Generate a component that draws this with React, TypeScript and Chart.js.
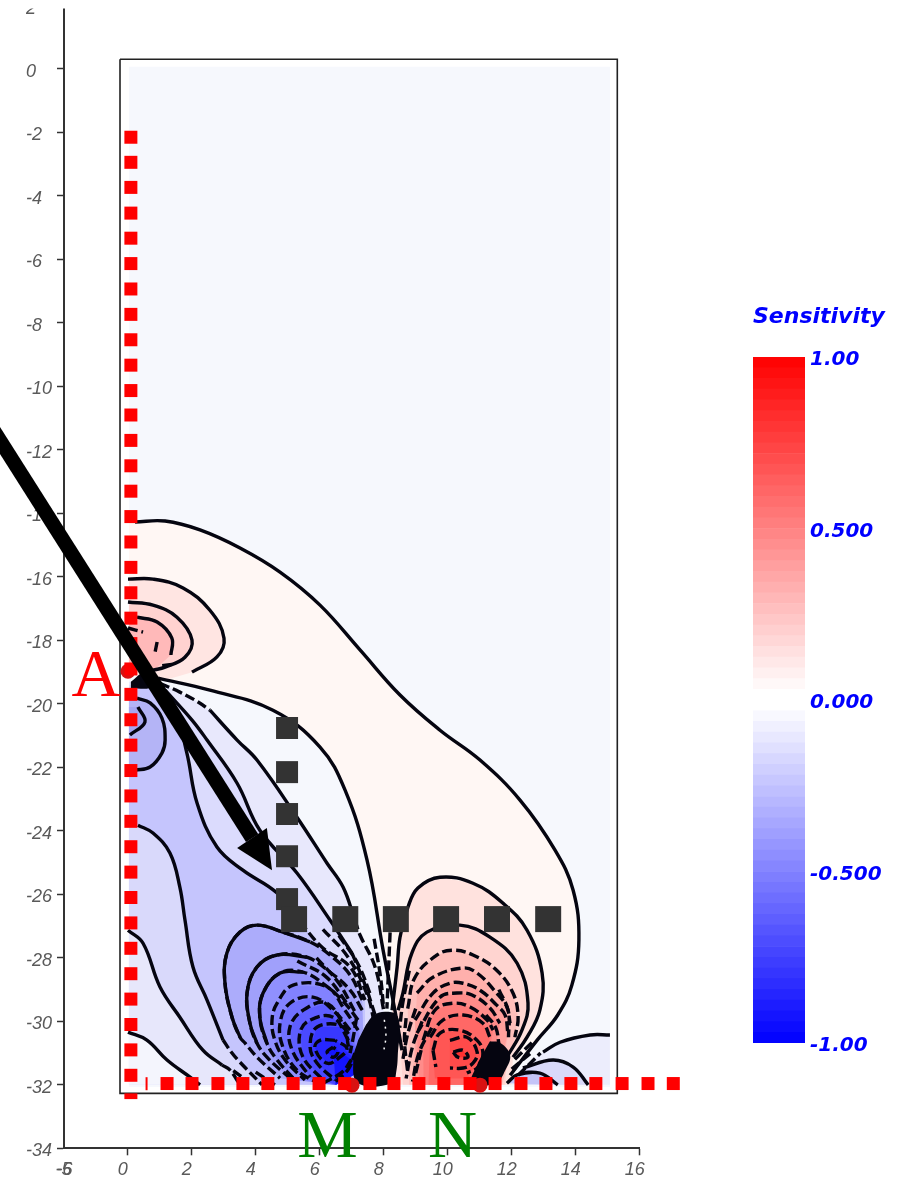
import React, { useEffect, useRef } from "react";
import { Chart, registerables } from "chart.js";
Chart.register(...registerables);

type P = number[][];

// ---- axis ticks ----
const yTickValues = [2,0,-2,-4,-6,-8,-10,-12,-14,-16,-18,-20,-22,-24,-26,-28,-30,-32,-34];
const xTickValues = [-1.85,-1.82,0,2,4,6,8,10,12,14,16];
const xTickLabels = ["-5","-6","0","2","4","6","8","10","12","14","16"];

// ---- electrodes ----
const boreholeDepths = [-2.15,-2.94,-3.73,-4.54,-5.33,-6.13,-6.93,-7.73,-8.53,-9.33,-10.13,-10.9,-11.7,-12.5,-13.3,-14.1,-14.9,-15.7,-16.5,-17.3,-18.1,-18.9,-19.7,-20.5,-21.3,-22.1,-22.9,-23.7,-24.5,-25.3,-26.1,-26.9,-27.7,-28.5,-29.3,-30.1,-30.9,-31.7];
const surfaceOffsets = [15.45,14.63,13.85,13.07,12.29,11.48,10.7,9.88,9.1,8.32,7.57,6.78,5.98,5.17,4.38,3.6,2.82,2.01,1.23];
const surfaceOverhang = [16.26,17.05];
const surfaceDepth = -31.96;
const columnDepths = [-20.76,-22.15,-23.47,-24.8,-26.15];
const rowOffsets = [5.2,6.8,8.38,9.95,11.54,13.14];
const activeElectrodes: P = [[0.01,-18.97],[7.01,-32.01],[11.01,-32.01]];

// ---- frame ----
const frame: P = [[-0.24,0.305],[15.3,0.305],[15.3,-32.27],[-0.24,-32.27],[-0.24,0.305]];
const field: P = [[0.04,0.07],[15.07,0.07],[15.07,-32.07],[0.04,-32.07]];

// ---- sensitivity contours ----
const zeroOuter: P = [[0.23,-14.27],[1.17,-14.24],[2.26,-14.52],[3.51,-15.09],[4.76,-15.85],[6.01,-16.89],[7.26,-18.3],[8.51,-19.72],[9.76,-20.83],[11.01,-21.77],[12.26,-23.03],[13.35,-24.6],[13.92,-25.87],[14.1,-27.44],[13.88,-28.86],[13.44,-29.8],[12.79,-30.6],[11.95,-31.7]];
const zeroInner: P = [[0.95,-19.19],[2.57,-19.57],[4.54,-20.2],[6.01,-21.36],[6.79,-22.71],[7.48,-24.92],[7.98,-27.75],[8.35,-29.65],[8.57,-30.91]];
const u1: P = [[0.01,-16.07],[0.79,-16.07],[1.73,-16.35],[2.57,-17.05],[3.01,-17.93],[2.79,-18.52],[2.01,-19.0]];
const u2: P = [[0.01,-16.79],[0.79,-16.89],[1.54,-17.27],[2.01,-17.99],[1.79,-18.53],[1.17,-18.84],[0.79,-18.94]];
const u3: P = [[0.29,-17.27],[0.92,-17.42],[1.38,-17.93],[1.35,-18.46]];
const u4: P = [[0.01,-17.61],[0.48,-17.74]];
const u5: P = [[0.92,-18.05],[0.85,-18.4]];
const u6: P = [[1.08,-18.8],[1.42,-18.75]];
const l1Start: P = [[1.01,-19.35],[1.63,-19.63],[2.2,-19.94],[2.57,-20.2]];
const l1: P = [[2.57,-20.2],[3.42,-21.14],[4.04,-21.77],[5.29,-23.57],[6.23,-25.02],[6.73,-25.77],[7.1,-26.81]];
const l1End: P = [[7.1,-26.81],[7.26,-27.28],[7.73,-28.29],[7.98,-29.55],[8.13,-30.6]];
const l2: P = [[1.17,-19.57],[2.01,-20.51],[2.48,-21.14],[3.42,-22.5],[4.13,-23.98],[5.29,-25.33],[6.32,-26.81],[7.01,-27.85]];
const l2End: P = [[7.01,-27.85],[7.42,-28.86],[7.73,-29.8]];
const l3: P = [[0.9,-19.45],[1.38,-19.88],[1.85,-21.55],[2.17,-23.13],[2.79,-24.51],[3.6,-25.24],[4.67,-25.96],[5.38,-26.87]];
const l3End: P = [[5.38,-26.87],[6.1,-27.69],[6.95,-28.29],[7.42,-29.33]];
const l4: P = [[0.32,-23.82],[0.79,-24.07],[1.32,-24.7],[1.63,-25.77],[1.79,-26.81],[2.04,-28.29],[2.48,-29.33],[2.98,-30.59]];
const l4End: P = [[2.98,-30.59],[3.26,-31],[3.51,-31.29],[4.2,-32]];
const l5: P = [[0.01,-27.13],[0.48,-27.54],[1.01,-28.92],[1.63,-29.87],[2.35,-30.91],[2.95,-31.38]];
const l5End: P = [[2.95,-31.38],[3.2,-31.54],[3.51,-32]];
const l6: P = [[0.01,-30.34],[0.6,-30.59],[1.23,-31.22],[1.95,-31.76],[2.26,-32]];
const lobe1: P = [[0.29,-19.82],[0.7,-19.97],[1.07,-20.45],[1.17,-21.14],[1.07,-21.55],[0.7,-21.99],[0.23,-22.09]];
const lobe2: P = [[0.32,-20.1],[0.54,-20.57],[0.07,-20.98]];

const m1: P = [[7.33,-29.33],[6.95,-28.54],[6.32,-27.91],[5.7,-27.5],[4.85,-27.19],[4.04,-26.97],[3.51,-27.19],[3.1,-27.85],[3.04,-28.8],[3.26,-29.87],[3.51,-30.5],[3.67,-30.69],[4.07,-31.16],[4.76,-31.79]];
const m2: P = [[7.33,-29.65],[6.95,-29.02],[6.32,-28.45],[5.6,-27.98],[4.67,-27.91],[4.04,-28.29],[3.73,-29.11],[3.82,-30.06],[4.04,-30.69],[4.38,-31.16],[5.07,-31.79]];
const m3: P = [[7.2,-29.96],[6.79,-29.43],[6.17,-28.86],[5.48,-28.45],[4.76,-28.48],[4.23,-29.11],[4.13,-29.87],[4.35,-30.69],[4.67,-31.22],[5.23,-31.85]];
const m4: P = [[7.2,-30.28],[6.79,-29.65],[6.23,-28.92],[5.17,-28.86],[4.67,-29.43],[4.51,-29.96],[4.6,-30.6],[4.92,-31.22],[5.54,-31.85]];
const m5: P = [[6.95,-30.28],[6.48,-29.71],[5.79,-29.24],[5.07,-29.43],[4.76,-30.06],[4.85,-30.81],[5.29,-31.54],[5.95,-31.95]];
const m6: P = [[6.9,-30.4],[6.23,-29.43],[5.48,-29.65],[5.07,-30.18],[5.14,-30.91],[5.7,-31.76]];
const m7: P = [[6.9,-30.6],[6.42,-29.87],[5.7,-29.96],[5.38,-30.37],[5.48,-31.13],[6.1,-31.85]];
const m8: P = [[6.9,-30.8],[6.73,-30.18],[5.92,-30.18],[5.7,-30.81],[5.92,-31.32],[6.48,-31.85]];
const m9: P = [[6.48,-30.6],[6.01,-30.6],[5.85,-30.85],[6.23,-31.32],[6.63,-31.13],[6.85,-30.85],[6.48,-30.6]];
const m10: P = [[6.42,-30.81],[6.23,-30.97],[6.42,-31.13],[6.57,-30.97],[6.42,-30.81]];

const p1: P = [[8.26,-29.65],[8.42,-28.29],[8.51,-27.35],[8.76,-26.4],[9.07,-25.8],[9.76,-25.46],[10.79,-25.65],[11.73,-26.28],[12.48,-27.13],[12.95,-28.48],[12.88,-29.65],[12.48,-30.5],[12.04,-31.13]];
const p2: P = [[8.45,-29.65],[8.6,-29.11],[8.88,-27.85],[9.35,-27.19],[10.38,-26.97],[11.32,-27.35],[12.17,-28.17],[12.51,-29.43],[12.32,-30.28],[11.85,-31.13]];
const p3: P = [[8.75,-29.6],[8.98,-28.61],[9.67,-27.91],[10.17,-27.76],[10.79,-27.91],[11.53,-28.39],[12.04,-29.11],[12.2,-29.87],[12.1,-30.5]];
const p4: P = [[9.04,-29.11],[9.54,-28.61],[10.48,-28.32],[10.92,-28.48],[11.53,-29.11],[11.85,-29.55],[11.95,-30.06]];
const p5: P = [[8.98,-29.96],[9.54,-29.11],[10.07,-28.8],[10.48,-28.8],[11.01,-29.02],[11.53,-29.49],[11.79,-29.8],[11.88,-30.37]];
const p6: P = [[9.04,-30.37],[9.76,-29.24],[10.29,-29.11],[10.76,-29.17],[11.32,-29.58],[11.63,-30.06]];
const p7: P = [[9.23,-30.6],[9.6,-29.65],[10.17,-29.43],[10.7,-29.55],[11.23,-29.96],[11.42,-30.28]];
const p8: P = [[9.45,-30.5],[9.85,-29.96],[10.48,-29.8],[11.1,-30.06],[11.32,-30.5]];
const p9: P = [[9.54,-30.91],[9.76,-30.37],[10.38,-30.28],[10.92,-30.6],[11.1,-31.0],[10.95,-31.44],[10.6,-31.63]];
const p10: P = [[10.07,-30.6],[10.6,-30.5],[10.92,-30.97],[10.79,-31.32],[10.48,-31.47],[10.07,-31.47]];
const p11: P = [[10.17,-30.97],[10.48,-30.91],[10.63,-31.13],[10.32,-31.13],[10.17,-30.97]];
const p12: P = [[9.54,-30.91],[9.63,-31.44]];
const p13: P = [[9.17,-30.91],[9.0,-31.63]];

const rb1: P = [[12.98,-30.97],[13.51,-30.66],[14.45,-30.43],[15.07,-30.43]];
const rb2: P = [[12.35,-31.47],[13.29,-31.22],[13.92,-31.44],[14.39,-32.0]];
const rb3: P = [[11.85,-31.95],[12.17,-31.69],[12.88,-31.63],[13.44,-32]];

// dense radial contours running into the dipoles
const rays: P[] = [
  [[12.1,-31.2],[12.7,-30.6]],
  [[12.0,-31.5],[12.6,-31.0]],
  [[12.2,-31.7],[12.9,-31.0]],
  [[7.7,-27.4],[7.9,-28.6],[8.0,-29.6]],
  [[8.2,-27.2],[8.15,-28.4],[8.1,-29.6]],
  [[6.1,-27.1],[6.9,-28.0],[7.5,-29.2],[7.7,-30.0]],
  [[6.6,-27.3],[7.2,-28.2],[7.6,-29.2]],
  [[8.8,-28.4],[8.6,-29.4],[8.5,-30.2]],
  [[9.0,-29.6],[8.75,-30.4],[8.6,-31.2]],
  [[9.2,-30.0],[8.9,-30.8],[8.7,-31.8]],
  [[9.5,-30.2],[9.1,-31.0],[8.9,-31.9]],
  [[11.6,-29.0],[11.9,-29.7],[11.9,-30.5]],
  [[11.2,-29.8],[11.5,-30.2],[11.6,-30.7]],
  [[5.9,-28.0],[6.6,-28.8],[7.1,-29.7]],
  [[5.3,-28.1],[6.2,-28.6],[6.9,-29.5]],
  [[4.0,-31.6],[4.6,-32]],
  [[3.3,-31.55],[3.7,-31.85]],
  [[6.5,-31.9],[6.9,-31.5],[7.1,-31.0]],
  [[6.1,-31.95],[6.7,-31.6],[7.0,-31.2]],
  [[8.7,-29.9],[8.65,-30.6],[8.75,-31.6]],
  [[7.15,-29.9],[7.05,-30.5],[6.95,-31.0]],
];
const knotSpeck: P = [[8.02,-29.95],[8.07,-30.45],[8.0,-30.95]];

const blobM: P = [[7.45,-30.1],[7.7,-29.8],[8.04,-29.7],[8.4,-29.8],[8.5,-30.28],[8.45,-30.91],[8.4,-31.54],[8.25,-31.95],[7.2,-31.95],[7.05,-31.22],[7.2,-30.6]];
const blobN: P = [[11.32,-30.63],[11.65,-30.68],[11.95,-31.07],[11.8,-31.54],[11.5,-31.95],[10.75,-31.95],[10.95,-31.29]];
const blobA: P = [[0.1,-19.3],[0.54,-19.0],[1.0,-19.25],[0.7,-19.5],[0.1,-19.5]];

// ---- arrow and annotations ----
const arrowShaft: P = [[-5,-10.1],[3.89,-24.23]];
const arrowHead: P = [[4.51,-25.24],[3.42,-24.54],[4.35,-23.91]];
const cutSquare: P = [[0.1,-32.27],[0.1,-32.45]];
const sliver: P = [[0.59,-31.76],[0.59,-32.17]];
const letters = [
  { text: "A", x: -0.99, y: -19.75, color: "#ff0000" },
  { text: "M", x: 6.24, y: -34.27, color: "#008000" },
  { text: "N", x: 10.15, y: -34.27, color: "#008000" },
];

// ---- colour bar ----
const bandLevels = [-1,-0.96875,-0.9375,-0.90625,-0.875,-0.84375,-0.8125,-0.78125,-0.75,-0.71875,-0.6875,-0.65625,-0.625,-0.59375,-0.5625,-0.53125,-0.5,-0.46875,-0.4375,-0.40625,-0.375,-0.34375,-0.3125,-0.28125,-0.25,-0.21875,-0.1875,-0.15625,-0.125,-0.09375,-0.0625,-0.03125,0.03125,0.0625,0.09375,0.125,0.15625,0.1875,0.21875,0.25,0.28125,0.3125,0.34375,0.375,0.40625,0.4375,0.46875,0.5,0.53125,0.5625,0.59375,0.625,0.65625,0.6875,0.71875,0.75,0.78125,0.8125,0.84375,0.875,0.90625,0.9375,0.96875,1];
const barTickValues = [1,0.5,0,-0.5,-1];
const barTickLabels = ["1.00","0.500","0.000","-0.500","-1.00"];
const barTitle = "Sensitivity";

const pts = (a: P) => a.map(([x, y]) => ({ x, y }));
const BLACK = "#050510";

function fillSet(a: P, color: string, tension = 0) {
  return { data: pts(a), borderColor: "transparent", borderWidth: 0, backgroundColor: color, fill: "shape", pointRadius: 0, tension, clip: false };
}
function lineSet(a: P, dash?: number[], width = 3.4, color = BLACK) {
  return { data: pts(a), borderColor: color, borderWidth: width, borderDash: dash || [], fill: false, pointRadius: 0, tension: 0.4, clip: false, borderCapStyle: "butt" };
}
function squares(a: P, size: number, color: string) {
  return { data: pts(a), showLine: false, pointStyle: "rect", pointRadius: size / Math.SQRT2, pointBackgroundColor: color, pointBorderWidth: 0, pointBorderColor: color, clip: false };
}

const DASH = [10, 4];
const rev = (a: P) => [...a].reverse();

function mainDatasets() {
  const s: any[] = [];
  s.push(fillSet(frame, "#ffffff", 0));
  s.push(fillSet(field, "#f6f8fd", 0));
  s.push({ ...lineSet(frame, [], 1.6, "#222222"), tension: 0 });

  // pink zone
  s.push(fillSet([[0.04,-14.24], ...zeroOuter, [8.8,-31.9], ...rev(zeroInner), [0.04,-19.0]], "#fff7f4"));
  s.push(fillSet([[0.04,-16.07], ...u1, [1.0,-19.3],[0.04,-19.0]], "#ffe5e2"));
  s.push(fillSet([[0.04,-16.79], ...u2, [0.04,-19.0]], "#ffd2d0"));
  s.push(fillSet([[0.04,-17.27], ...u3, [0.75,-19.0],[0.04,-19.0]], "#ffb9b9"));

  // blue field
  s.push(fillSet([...l1Start, ...l1, ...l1End, [8.1,-32],[0.04,-32],[0.04,-19.3]], "#e8e8fc"));
  s.push(fillSet([...l2, ...l2End, [7.7,-32],[0.04,-32],[0.04,-19.4]], "#dbdbfd"));
  s.push(fillSet([...l3, ...l3End, [7.4,-32],[0.04,-32],[0.04,-19.5]], "#c5c5fd"));
  s.push(fillSet([[0.04,-23.82], ...l4, ...l4End, [0.04,-32]], "#d9d9fb"));
  s.push(fillSet([[0.04,-27.13], ...l5, ...l5End, [0.04,-32]], "#e7e7fb"));
  s.push(fillSet([[0.04,-30.34], ...l6, [0.04,-32]], "#f4f5fd"));
  s.push(fillSet([...lobe1, [0.04,-22.09],[0.04,-19.8]], "#b4b4f6"));
  s.push(fillSet([...lobe2, [0.04,-20.98],[0.04,-20.1]], "#a6a6f2"));

  // blue lobe M
  const mClose: P = [[6.5,-32],[7.4,-31.5]];
  ([[m1,"#acacfb"],[m2,"#a0a0fb"],[m3,"#9090fd"],[m4,"#8282ff"],[m5,"#7070ff"],[m6,"#5e5eff"],[m7,"#4a4aff"],[m8,"#3838ff"],[m9,"#2626ff"],[m10,"#1414ff"]] as [P,string][])
    .forEach(([c, col]) => s.push(fillSet([...c, ...mClose], col)));

  // red lobe N
  ([[p1,"#ffe2de",[12,-32],[8.4,-32]],[p2,"#ffd4d0",[11.8,-32],[8.6,-32]],[p3,"#ffbfbb",[11.7,-32],[8.8,-32]],[p4,"#ffb0ac",[11.6,-32],[8.9,-32]],[p5,"#ffa09c",[11.5,-32],[9,-32]],[p6,"#ff8c8a",[11.3,-32],[9.1,-32]],[p7,"#ff7a78",[11.1,-32],[9.25,-32]],[p8,"#ff6866",[11.0,-32],[9.4,-32]],[p9,"#ff5654",[10.7,-31.8],[9.6,-31.8]],[p10,"#ff4a4a",[10.07,-31.47],[10.07,-31.47]],[p11,"#ff3030",[10.32,-31.13],[10.32,-31.13]]] as [P,string,number[],number[]][])
    .forEach(([c, col, a, b]) => s.push(fillSet([...c, a, b], col)));

  // right blue lobe
  s.push(fillSet([[12.2,-31.6], ...rb1, [15.07,-32],[12,-32]], "#ecedfc"));
  s.push(fillSet([...rb2, [12.1,-32]], "#d9d9fa"));
  s.push(fillSet([...rb3], "#c4c4f8"));

  // contour lines
  [zeroOuter, zeroInner, u1, u2, u3, l1, l2, l3, l4, l5, l6, lobe1, lobe2, p1, p2, rb1, rb2, rb3].forEach((c) => s.push(lineSet(c)));
  [u4, u5, u6, l1Start, l1End, l2End, l3End, l4End, l5End, p3, p4, p5, p6, p7, p8, p9, p10, p11, p12, p13, m1, m2, m3, m4, m5, m6, m7, m8, m9, m10, ...rays].forEach((c) => s.push(lineSet(c, DASH)));
  s.push(lineSet(m1.slice(3, 11)));
  s.push(lineSet(m2.slice(3, 9)));
  s.push(lineSet(m3.slice(3, 8)));

  // dense knots
  s.push(fillSet(blobM, BLACK, 0.4));
  s.push(fillSet(blobN, BLACK, 0.4));
  s.push(fillSet(blobA, BLACK, 0.4));
  s.push(lineSet(knotSpeck, [2, 5], 1.5, "#ffffff"));

  // electrodes
  s.push({ data: pts(activeElectrodes), showLine: false, pointStyle: "circle", pointRadius: 7.5, pointBackgroundColor: "#d81212", pointBorderWidth: 0, clip: false });
  s.push(squares(boreholeDepths.map((y) => [0.1, y]), 13, "#ff0000"));
  s.push(squares(surfaceOffsets.map((x) => [x, surfaceDepth]), 13, "#ff0000"));
  surfaceOverhang.forEach((x) => s.push({ ...lineSet([[x + 0.203, surfaceDepth], [x - 0.203, surfaceDepth]], [], 13, "#ff0000"), tension: 0 }));
  s.push(lineSet(cutSquare, [], 13, "#ff0000"));
  s.push(lineSet(sliver, [], 2, "#ff0000"));
  s.push(squares(columnDepths.map((y) => [4.98, y]), 22, "#333333"));
  s.push(squares(rowOffsets.map((x) => [x, -26.78]), 26, "#333333"));

  // arrow
  s.push({ ...lineSet(arrowShaft, [], 14.5, "#000000"), tension: 0 });
  s.push(fillSet(arrowHead, "#000000", 0));

  return s.reverse();
}

const annotate = {
  id: "annotate",
  afterDatasetsDraw(chart: any) {
    const { ctx, scales } = chart;
    ctx.save();
    ctx.font = '68px "Liberation Serif"';
    ctx.textAlign = "center";
    ctx.textBaseline = "alphabetic";
    letters.forEach((l) => {
      ctx.fillStyle = l.color;
      ctx.fillText(l.text, scales.x.getPixelForValue(l.x), scales.y.getPixelForValue(l.y));
    });
    ctx.restore();
  },
  afterDraw(chart: any) {
    const { ctx, width } = chart;
    ctx.save();
    ctx.fillStyle = "#ffffff";
    ctx.fillRect(0, 0, width, 8.5);
    ctx.restore();
  },
};

const fixSize = (prop: "width" | "height", v: number) => (scale: any) => {
  scale[prop] = v;
  scale.paddingTop = 0; scale.paddingBottom = 0; scale.paddingLeft = 0; scale.paddingRight = 0;
};

function bandColor(mid: number) {
  const a = Math.abs(mid);
  if (a < 0.03) return "#ffffff";
  const g = Math.round(255 * (1 - (a - 0.02) / 0.98));
  return mid > 0 ? `rgb(255,${g},${g})` : `rgb(${g},${g},255)`;
}

export default function App() {
  const mainRef = useRef<HTMLCanvasElement>(null);
  const barRef = useRef<HTMLCanvasElement>(null);

  useEffect(() => {
    const tickFont = { family: "Liberation Sans", style: "italic" as const, size: 18 };
    const main = new Chart(mainRef.current!, {
      type: "line",
      data: { datasets: mainDatasets() },
      plugins: [annotate],
      options: {
        animation: false, responsive: false, events: [],
        layout: { autoPadding: false, padding: { left: 26, right: 266.3, top: 5.5, bottom: 0 } },
        plugins: { legend: { display: false }, tooltip: { enabled: false }, title: { display: false } },
        scales: {
          x: {
            type: "linear", min: -1.99, max: 16,
            afterBuildTicks: (s: any) => { s.ticks = xTickValues.map((value) => ({ value })); },
            afterFit: fixSize("height", 30.7),
            grid: { drawOnChartArea: false, tickLength: 7, tickWidth: 1.5, tickColor: (c: any) => (c.tick && c.tick.value < -1 ? "transparent" : "#333333") },
            border: { color: "#333333", width: 2 },
            ticks: { font: tickFont, color: "#5a5a5a", autoSkip: false, maxRotation: 0, labelOffset: -5, padding: 4, callback: (_v: any, i: number) => xTickLabels[i] },
          },
          y: {
            type: "linear", min: -34, max: 2,
            afterBuildTicks: (s: any) => { s.ticks = yTickValues.map((value) => ({ value })); },
            afterFit: fixSize("width", 38),
            grid: { drawOnChartArea: false, tickLength: 7, tickWidth: 1.5, tickColor: "#333333" },
            border: { color: "#333333", width: 2 },
            ticks: { font: tickFont, color: "#5a5a5a", autoSkip: false, crossAlign: "far", labelOffset: 3, callback: (v: any) => String(v) },
          },
        },
      } as any,
    });

    const bands = bandLevels.slice(0, -1).map((lo, i) => {
      const hi = bandLevels[i + 1];
      return { data: [[lo, hi]], backgroundColor: bandColor((lo + hi) / 2), borderWidth: 0, barPercentage: 1, categoryPercentage: 1, grouped: false };
    });
    const bar = new Chart(barRef.current!, {
      type: "bar",
      data: { labels: [""], datasets: bands as any },
      options: {
        animation: false, responsive: false, events: [],
        layout: { padding: { left: 13, right: 0, top: 0, bottom: 21 } },
        plugins: {
          legend: { display: false }, tooltip: { enabled: false },
          title: { display: true, text: barTitle, align: "start", color: "#0000ff", font: { family: "DejaVu Sans", weight: "bold", style: "italic", size: 22, lineHeight: 1.2 }, padding: { top: 0, bottom: 26.6 } },
        },
        scales: {
          x: { display: false },
          y: {
            position: "right", min: -1, max: 1,
            afterBuildTicks: (s: any) => { s.ticks = barTickValues.map((value) => ({ value })); },
            afterFit: fixSize("width", 101),
            grid: { display: false, drawTicks: false },
            border: { display: false },
            ticks: { font: { family: "DejaVu Sans", weight: "bold", style: "italic", size: 20 }, color: "#0000ff", padding: 5, labelOffset: 3, autoSkip: false, callback: (_v: any, i: number) => barTickLabels[i] },
          },
        },
      } as any,
    });

    return () => { main.destroy(); bar.destroy(); };
  }, []);

  return (
    <div style={{ position: "absolute", left: 0, top: 0, width: 906, height: 1179, overflow: "hidden", background: "#fff" }}>
      <canvas ref={mainRef} width={906} height={1179} style={{ position: "absolute", left: 0, top: 0 }} />
      <canvas ref={barRef} width={166} height={760} style={{ position: "absolute", left: 740, top: 304 }} />
    </div>
  );
}
